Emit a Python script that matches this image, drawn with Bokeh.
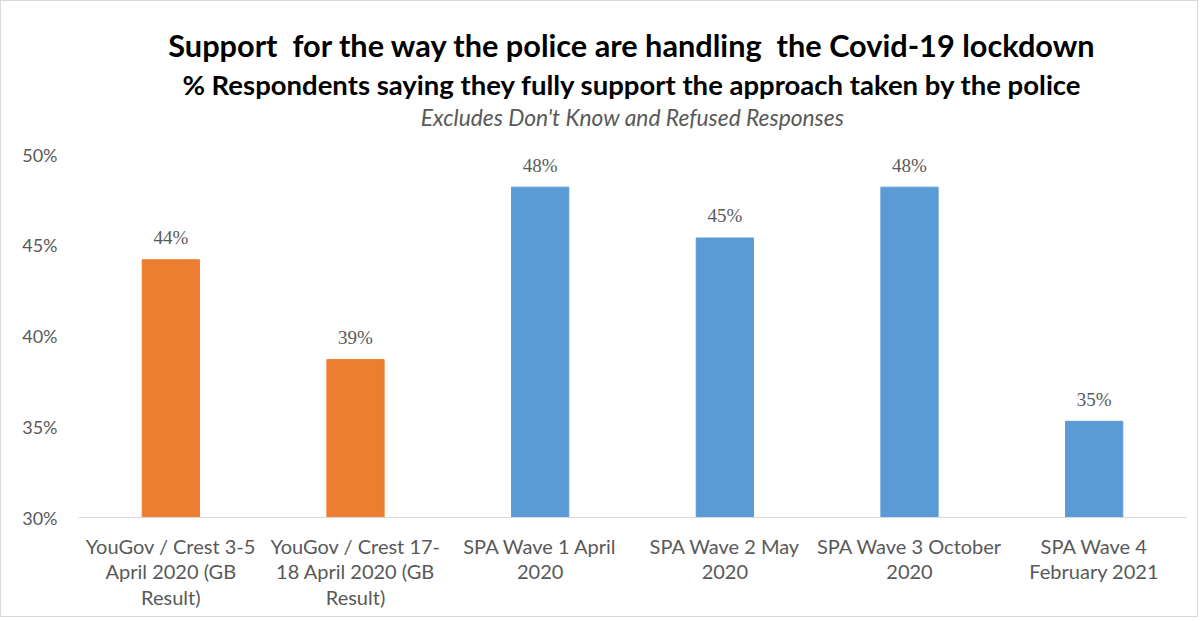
from bokeh.plotting import figure
from bokeh.models import ColumnDataSource, LabelSet, Title, FactorRange, Range1d, PrintfTickFormatter, FixedTicker
from bokeh.embed import file_html
from bokeh.resources import INLINE

# ---- data ----
categories = [
    "YouGov / Crest 3-5\nApril 2020 (GB\nResult)",
    "YouGov / Crest 17-\n18 April 2020 (GB\nResult)",
    "SPA Wave 1 April\n2020",
    "SPA Wave 2 May\n2020",
    "SPA Wave 3 October\n2020",
    "SPA Wave 4\nFebruary 2021",
]
values = [44.2, 38.7, 48.2, 45.4, 48.2, 35.3]
bar_colors = ["#ED7D31", "#ED7D31", "#5B9BD5", "#5B9BD5", "#5B9BD5", "#5B9BD5"]
y_ticks = [30, 35, 40, 45, 50]
Y_MIN, Y_MAX = 30, 50

# the original title has double spaces; a no-break space keeps them visible in SVG
title1 = "Support\u00a0 for the way the police are handling\u00a0 the Covid-19 lockdown"
title2 = "% Respondents saying they fully support the approach taken by the police"
title3 = "Excludes Don't Know and Refused Responses"

FONT = "Lato"

src = ColumnDataSource(dict(
    cat=categories,
    val=values,
    color=bar_colors,
    label=[f"{round(v):d}%" for v in values],
))

p = figure(
    width=1198, height=617,
    x_range=FactorRange(factors=categories),
    y_range=Range1d(Y_MIN, Y_MAX),
    output_backend="svg", toolbar_location=None, title=None,
    min_border_left=77, min_border_right=13, min_border_top=153, min_border_bottom=101,
)
p.styles = {"border": "1px solid #d9d9d9"}
p.outline_line_color = None
p.xgrid.grid_line_color = None
p.ygrid.grid_line_color = None
p.background_fill_color = "white"
p.border_fill_color = "white"

p.vbar(x="cat", top="val", bottom=Y_MIN, width=0.31, color="color", source=src)

# y axis
p.yaxis.ticker = FixedTicker(ticks=y_ticks)
p.yaxis.formatter = PrintfTickFormatter(format="%d%%")
p.yaxis.axis_line_color = None
p.yaxis.major_tick_line_color = None
p.yaxis.minor_tick_line_color = None
p.yaxis.major_tick_out = 0
p.yaxis.major_tick_in = 0
p.yaxis.major_label_text_font = FONT
p.yaxis.major_label_text_font_size = "18px"
p.yaxis.major_label_text_color = "#595959"
p.yaxis.major_label_standoff = 21

# x axis
p.xaxis.axis_line_color = "#d9d9d9"
p.xaxis.major_tick_line_color = None
p.xaxis.minor_tick_line_color = None
p.xaxis.major_tick_out = 0
p.xaxis.major_tick_in = 0
p.xaxis.major_label_text_font = FONT
p.xaxis.major_label_text_font_size = "20px"
p.xaxis.major_label_text_color = "#595959"
p.xaxis.major_label_text_line_height = 1.08
p.xaxis.major_label_standoff = 16

val_labels = LabelSet(
    x="cat", y="val", text="label", source=src,
    text_align="center", text_baseline="middle", y_offset=22,
    text_font=FONT, text_font_size="19px", text_color="#595959",
)
p.add_layout(val_labels)

# titles: added innermost first (a thin spacer sits directly above the plot area)
p.add_layout(Title(text=" ", text_font_size="1px", standoff=20.5), "above")
p.add_layout(Title(text=title3, align="center", text_font=FONT, text_font_size="22.8px",
                   text_font_style="italic", text_color="#595959", standoff=0), "above")
p.add_layout(Title(text=title2, align="center", text_font=FONT, text_font_size="27.5px",
                   text_font_style="bold", text_color="#000000", standoff=0), "above")
p.add_layout(Title(text=title1, align="center", text_font=FONT, text_font_size="30.7px",
                   text_font_style="bold", text_color="#000000", standoff=4), "above")

open("out.html", "w").write(file_html(p, INLINE))
